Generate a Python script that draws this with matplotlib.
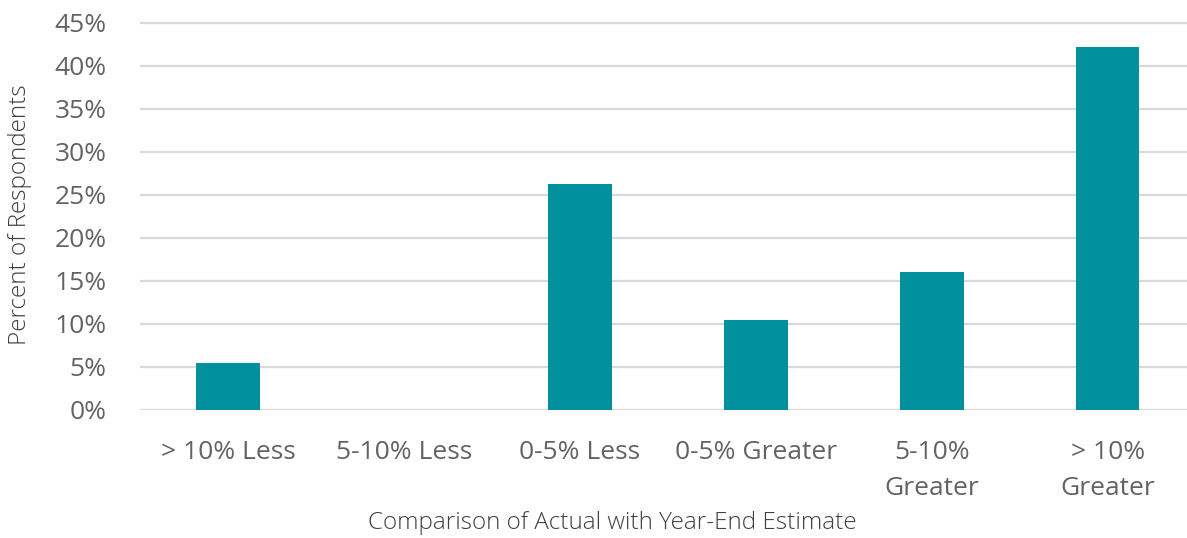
import matplotlib
matplotlib.use("Agg")
import matplotlib.pyplot as plt
from matplotlib.ticker import FuncFormatter

categories = ["> 10% Less", "5-10% Less", "0-5% Less", "0-5% Greater", "5-10%\nGreater", "> 10%\nGreater"]
values = [5.4, 0.0, 26.2, 10.4, 16.0, 42.2]
yticks = [0, 5, 10, 15, 20, 25, 30, 35, 40, 45]

W, H = 1187, 538
fig = plt.figure(figsize=(W / 100, H / 100), dpi=100)
ymax = 45.5
px_per = 387 / 45
ax_h = ymax * px_per
ax = fig.add_axes([140 / W, (H - 409.7) / H, (W - 140) / W, ax_h / H])

x = list(range(len(categories)))
ax.bar(x, values, width=0.36, color="#00909E", zorder=3)

ax.set_xlim(-0.5, 5.45)
ax.set_ylim(0, ymax)
ax.set_yticks(yticks)
ax.yaxis.set_major_formatter(FuncFormatter(lambda v, p: f"{int(v)}%"))
ax.set_xticks(x)
ax.set_xticklabels(categories)

ax.grid(axis="y", color="#d9d9d9", linewidth=1.6, zorder=0)
for s in ax.spines.values():
    s.set_visible(False)
ax.tick_params(axis="both", length=0, labelsize=19, labelcolor="#636363")
ax.tick_params(axis="y", pad=24)
ax.tick_params(axis="x", pad=22)
for lab in ax.get_xticklabels() + ax.get_yticklabels():
    lab.set_family(["Open Sans", "DejaVu Sans"])
    lab.set_linespacing(1.58)

fig.text(612 / W, 1 - 523 / H, "Comparison of Actual with Year-End Estimate",
         ha="center", va="center", fontsize=17.5, color="#404040",
         family=["Open Sans", "DejaVu Sans"], fontweight="light")
fig.text(20 / W, 1 - 215 / H, "Percent of Respondents", rotation=90,
         ha="center", va="center", fontsize=17.5, color="#404040",
         family=["Open Sans", "DejaVu Sans"], fontweight="light")

fig.savefig("out.png", dpi=100, facecolor="white")
